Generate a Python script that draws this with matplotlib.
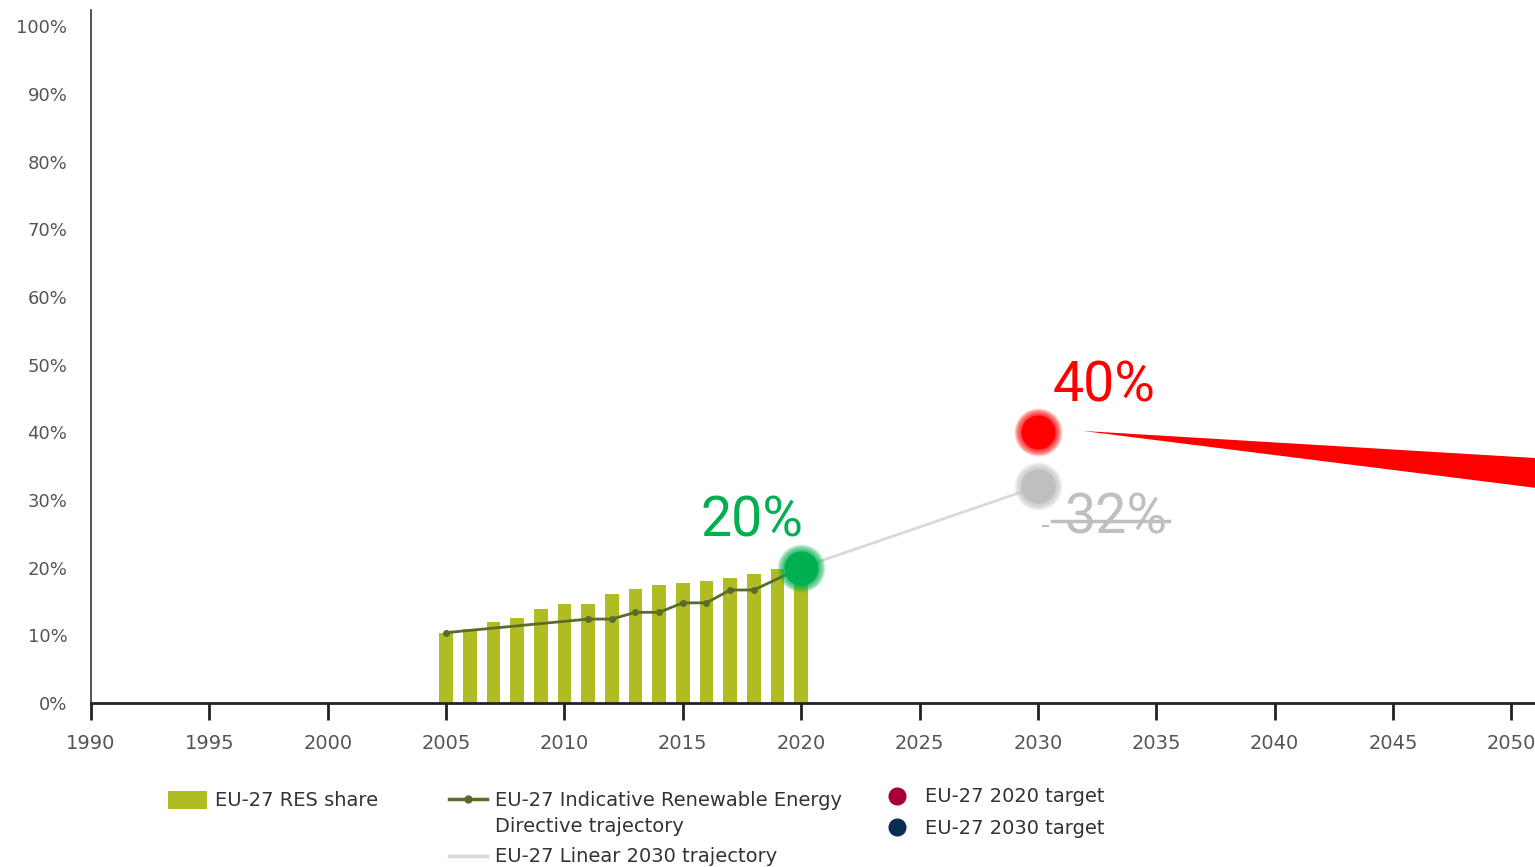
import matplotlib
matplotlib.use("Agg")
import matplotlib.pyplot as plt
from matplotlib.patches import Polygon, Rectangle
from matplotlib.lines import Line2D
import numpy as np

# EU-27 RES share (%)
res_years = list(range(2005, 2021))
res_share = [10.3, 10.9, 11.9, 12.6, 13.9, 14.6, 14.6, 16.1, 16.8, 17.4,
             17.8, 18.1, 18.5, 19.0, 19.8, 22.1]

# indicative RED trajectory
red_years = [2005, 2011, 2012, 2013, 2014, 2015, 2016, 2017, 2018, 2020]
red_share = [10.4, 12.4, 12.4, 13.4, 13.4, 14.8, 14.8, 16.7, 16.7, 20.0]

# linear 2030 trajectory
lin_years = [2020, 2030]
lin_share = [20.0, 32.0]

# targets
target_years = [2020, 2030, 2030]
target_share = [20, 32, 40]
target_labels = ["20%", "32%", "40%"]
target_colors = ["#00b050", "#bfbfbf", "#ff0000"]

x_ticks = list(range(1990, 2051, 5))
y_ticks = list(range(0, 101, 10))

BAR = "#afbd22"
TRAJ = "#5b6b2b"
LIN = "#d9d9d9"
TICK = "#555555"
BIG_FONT = ["Roboto", "DejaVu Sans"]
BIG_SIZE = 40

fig = plt.figure(figsize=(15.35, 8.67), dpi=100)
ax = fig.add_axes([91 / 1535, 1 - 703 / 867, 1 - 91 / 1535, (703 - 10) / 867])
ax.set_xlim(1990, 2051)
ax.set_ylim(0, 102.4)

ax.bar(res_years, res_share, width=0.58, color=BAR, zorder=2)
ax.plot(lin_years, lin_share, color=LIN, lw=2, zorder=2)
ax.plot(red_years, red_share, color=TRAJ, lw=2, marker="o", ms=4, zorder=3)

# blurred target dots
for x, y, c in zip(target_years, target_share, target_colors):
    for r in np.linspace(24, 17, 10):
        ax.scatter([x], [y], s=(2 * r * 0.72) ** 2, color=c, alpha=0.14,
                   lw=0, zorder=4)
    ax.scatter([x], [y], s=(2 * 17 * 0.72) ** 2, color=c, lw=0, zorder=5)

# target labels
ax.text(target_years[0] - 2.1, target_share[0] + 6.9, target_labels[0],
        color=target_colors[0], fontsize=BIG_SIZE, family=BIG_FONT,
        ha="center", va="center", zorder=6)
t32 = ax.text(target_years[1] + 3.3, target_share[1] - 4.6, target_labels[1],
              color=target_colors[1], fontsize=BIG_SIZE, family=BIG_FONT,
              ha="center", va="center", zorder=6)
ax.text(target_years[2] + 2.8, target_share[2] + 6.9, target_labels[2],
        color=target_colors[2], fontsize=BIG_SIZE, family=BIG_FONT,
        ha="center", va="center", zorder=6)

# red wedge from the 40% target
ax.add_patch(Polygon([[2031.9, 40.2], [2051, 36.2], [2051, 31.8]],
                     closed=True, color="#ff0000", lw=0, clip_on=False,
                     zorder=5))

# axes styling
for s in ["top", "right"]:
    ax.spines[s].set_visible(False)
ax.spines["left"].set_color("#333333")
ax.spines["bottom"].set_color("#222222")
ax.spines["left"].set_linewidth(1.2)
ax.spines["bottom"].set_linewidth(2)
ax.set_xticks(x_ticks)
ax.set_xticklabels([str(v) for v in x_ticks])
ax.set_yticks(y_ticks)
ax.set_yticklabels([f"{v}%" for v in y_ticks])
ax.tick_params(axis="x", length=12, width=2, color="#222222",
               labelsize=14, labelcolor=TICK, pad=10)
ax.tick_params(axis="y", length=0, labelsize=13, labelcolor=TICK, pad=17)

# strike-through for 32%
fig.canvas.draw()
bb = t32.get_window_extent().transformed(fig.transFigure.inverted())
ymid = bb.y0 + bb.height * 0.44
fig.add_artist(Line2D([bb.x0 - 0.008, bb.x1 + 0.001], [ymid, ymid],
                      color="#bfbfbf", lw=2.5))
fig.add_artist(Line2D([bb.x0 - 0.014, bb.x0 - 0.0105],
                      [ymid - 0.006, ymid - 0.006], color="#bfbfbf", lw=1.5))

# legend (drawn by hand to follow the original layout)
LEG = "#333333"
lf = 14
fig.add_artist(Rectangle((168 / 1535, 1 - 809 / 867), 39 / 1535, 18 / 867,
                         color=BAR, lw=0))
fig.text(215 / 1535, 1 - 800 / 867, "EU-27 RES share", fontsize=lf,
         color=LEG, va="center")
fig.add_artist(Line2D([449 / 1535, 487 / 1535], [1 - 799 / 867] * 2,
                      color=TRAJ, lw=2.5))
fig.add_artist(Line2D([468 / 1535], [1 - 799 / 867], color=TRAJ,
                      marker="o", ms=5, lw=0))
fig.text(495 / 1535, 1 - 800 / 867, "EU-27 Indicative Renewable Energy",
         fontsize=lf, color=LEG, va="center")
fig.text(495 / 1535, 1 - 826 / 867, "Directive trajectory", fontsize=lf,
         color=LEG, va="center")
fig.add_artist(Line2D([449 / 1535, 487 / 1535], [1 - 856 / 867] * 2,
                      color=LIN, lw=2.5))
fig.text(495 / 1535, 1 - 856 / 867, "EU-27 Linear 2030 trajectory",
         fontsize=lf, color=LEG, va="center")
fig.add_artist(Line2D([897 / 1535], [1 - 796 / 867], color="#a50034",
                      marker="o", ms=12, lw=0))
fig.text(925 / 1535, 1 - 797 / 867, "EU-27 2020 target", fontsize=lf,
         color=LEG, va="center")
fig.add_artist(Line2D([897 / 1535], [1 - 827 / 867], color="#0b2d52",
                      marker="o", ms=12, lw=0))
fig.text(925 / 1535, 1 - 828 / 867, "EU-27 2030 target", fontsize=lf,
         color=LEG, va="center")

fig.savefig("out.png", dpi=100)
